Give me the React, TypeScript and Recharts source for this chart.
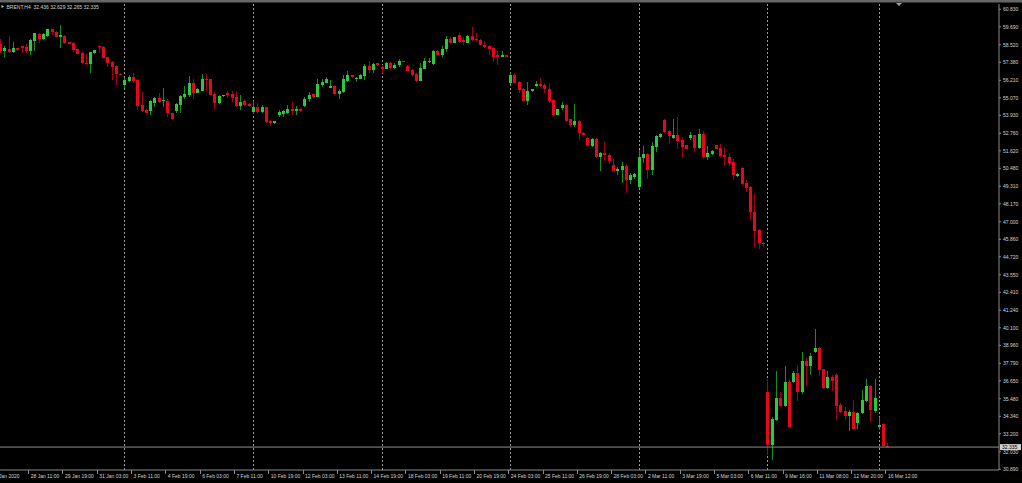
import React from 'react';
import { ComposedChart, Bar, XAxis, YAxis, ReferenceLine } from 'recharts';

// ---- data (BRENT, H4) ----
const opens = [
  58.57, 58.12, 58.27, 58.05, 58.31, 58.44, 58.40, 58.12, 58.77, 59.22,
  58.90, 59.09, 59.53, 59.35, 59.05, 59.09, 58.68, 58.66, 58.22, 58.01,
  57.36, 57.27, 57.96, 58.44, 58.40, 57.73, 57.40, 57.14, 56.64, 55.90,
  56.16, 56.40, 56.23, 54.62, 54.28, 54.19, 54.75, 55.06, 54.84, 54.88,
  54.06, 54.21, 54.62, 55.14, 55.25, 56.06, 55.40, 55.53, 56.32, 56.27,
  55.32, 54.75, 55.17, 55.40, 55.30, 55.10, 54.54, 54.84, 54.67, 54.15,
  54.45, 54.15, 54.45, 53.58, 53.41, 53.97, 54.02, 54.10, 54.36, 54.23,
  54.32, 54.54, 54.97, 55.30, 55.14, 55.90, 56.06, 55.71, 55.84, 55.32,
  55.45, 56.19, 56.53, 56.27, 56.32, 56.49, 57.16, 56.88, 57.31, 57.10,
  56.97, 57.36, 56.99, 57.18, 57.47, 57.14, 56.88, 56.62, 56.19, 56.97,
  57.40, 57.27, 58.14, 57.83, 58.24, 58.88, 58.66, 59.14, 58.83, 58.66,
  59.09, 58.92, 58.83, 58.48, 58.44, 58.31, 57.83, 57.75, 57.83, 56.01,
  56.53, 56.10, 55.62, 54.88, 55.53, 55.84, 55.95, 55.88, 55.66, 54.93,
  53.97, 54.41, 54.62, 53.67, 53.28, 53.54, 52.80, 52.45, 51.93, 52.37,
  51.24, 51.50, 51.37, 50.67, 50.33, 50.37, 50.63, 49.72, 49.94, 49.29,
  51.15, 51.41, 50.37, 51.85, 52.50, 53.62, 52.93, 52.45, 52.63, 52.32,
  51.97, 52.45, 52.63, 51.80, 52.71, 51.19, 51.41, 52.02, 51.80, 51.37,
  51.24, 50.89, 49.98, 50.50, 49.50, 49.29, 47.64, 46.46, 45.64, 35.92,
  32.47, 34.10, 35.53, 35.01, 36.57, 36.57, 37.14, 35.92, 37.96, 37.61,
  38.52, 38.79, 37.40, 36.18, 36.88, 37.05, 35.05, 34.66, 34.36, 34.62,
  33.88, 34.53, 35.34, 36.31, 34.71, 33.62, 33.84, 32.436,
];
const highs = [
  58.88, 58.44, 59.09, 58.70, 58.33, 58.46, 58.57, 58.88, 59.31, 59.27,
  59.31, 59.57, 59.57, 59.44, 59.83, 59.14, 58.70, 58.68, 58.27, 58.05,
  57.92, 58.07, 58.18, 58.44, 58.42, 57.73, 57.44, 57.18, 56.66, 56.34,
  56.58, 56.71, 56.27, 55.45, 54.32, 54.93, 55.10, 55.40, 55.69, 55.01,
  54.10, 54.71, 55.25, 55.86, 56.49, 56.32, 55.69, 56.62, 56.62, 56.32,
  55.47, 55.25, 55.27, 55.53, 55.51, 55.49, 55.25, 54.97, 54.71, 54.84,
  54.71, 54.58, 54.45, 53.63, 53.58, 54.28, 54.28, 54.62, 54.82, 54.54,
  54.38, 55.14, 55.45, 55.36, 56.27, 56.27, 56.40, 56.23, 55.88, 55.62,
  56.55, 56.81, 56.58, 56.40, 56.62, 57.27, 57.49, 57.31, 57.36, 57.23,
  57.40, 57.40, 57.31, 57.57, 57.49, 57.18, 56.97, 56.71, 57.36, 57.66,
  57.66, 58.18, 58.18, 58.44, 59.09, 59.05, 59.05, 59.31, 59.05, 59.14,
  59.66, 59.31, 58.88, 58.74, 58.48, 58.35, 58.14, 58.09, 57.85, 56.66,
  56.71, 56.14, 55.71, 56.10, 55.66, 56.14, 56.36, 56.01, 55.97, 54.97,
  54.36, 54.80, 54.67, 53.71, 54.67, 53.62, 52.82, 52.50, 52.45, 52.45,
  51.54, 52.19, 51.45, 51.11, 50.59, 50.89, 50.76, 50.15, 50.20, 51.67,
  51.93, 51.45, 52.19, 52.67, 52.76, 53.67, 52.97, 53.71, 53.80, 52.54,
  52.02, 52.84, 52.67, 53.02, 52.89, 51.93, 51.67, 52.02, 52.06, 51.85,
  51.45, 51.11, 50.15, 50.54, 49.72, 49.33, 48.81, 46.55, 45.68, 36.75,
  34.27, 37.31, 35.92, 37.61, 36.75, 37.27, 37.68, 38.52, 38.13, 38.48,
  40.02, 38.83, 37.44, 37.31, 37.01, 37.18, 35.18, 34.92, 34.75, 35.40,
  34.62, 36.05, 36.75, 36.36, 36.75, 34.27, 33.88, 32.629,
];
const lows = [
  57.96, 57.75, 57.96, 57.96, 58.14, 57.96, 57.96, 57.83, 58.12, 58.66,
  58.83, 59.05, 59.14, 59.01, 58.33, 58.55, 58.55, 58.07, 57.90, 57.25,
  57.20, 56.66, 57.92, 58.01, 57.64, 57.10, 56.23, 55.88, 56.55, 55.69,
  56.08, 56.06, 54.28, 54.17, 54.06, 53.97, 54.45, 54.71, 54.45, 53.84,
  53.63, 54.10, 54.10, 54.97, 55.14, 54.97, 55.36, 55.49, 55.53, 55.23,
  54.32, 54.67, 55.14, 55.14, 54.82, 54.49, 54.28, 54.54, 54.49, 54.02,
  54.10, 54.06, 53.41, 53.23, 53.37, 53.84, 53.80, 54.02, 53.95, 53.95,
  54.15, 54.49, 54.82, 55.03, 55.10, 55.79, 56.01, 55.69, 55.27, 55.01,
  55.40, 56.12, 56.36, 56.12, 56.27, 56.23, 56.66, 56.66, 57.14, 56.71,
  56.92, 56.97, 56.92, 57.10, 57.38, 56.79, 56.49, 56.10, 56.14, 56.92,
  57.36, 57.23, 57.79, 57.75, 58.05, 58.62, 58.62, 58.62, 58.48, 58.62,
  58.79, 58.70, 58.48, 58.31, 57.83, 57.40, 57.23, 57.70, 57.70, 55.97,
  56.01, 55.36, 54.84, 54.58, 55.45, 55.75, 55.79, 55.36, 54.75, 53.93,
  53.93, 54.28, 53.49, 53.19, 53.19, 52.32, 52.65, 51.93, 51.85, 51.15,
  50.33, 50.93, 50.76, 50.28, 50.04, 49.50, 48.85, 49.46, 49.81, 49.20,
  50.80, 49.81, 50.02, 51.54, 52.45, 52.80, 52.11, 52.41, 51.71, 51.15,
  51.71, 52.32, 51.54, 51.71, 51.06, 51.02, 51.37, 51.71, 51.24, 50.63,
  50.63, 49.72, 49.94, 49.42, 48.94, 47.11, 45.38, 45.25, 45.34, 31.82,
  31.50, 34.06, 34.92, 34.97, 33.58, 36.53, 35.31, 35.79, 36.31, 37.05,
  38.48, 36.96, 36.14, 36.14, 36.01, 34.10, 34.58, 34.10, 33.41, 33.45,
  33.49, 34.49, 35.29, 33.99, 34.58, 33.45, 32.36, 32.265,
];
const closes = [
  58.14, 58.29, 58.07, 58.31, 58.18, 58.33, 58.12, 58.83, 59.27, 58.92,
  59.22, 59.53, 59.35, 59.05, 59.18, 58.62, 58.57, 58.18, 57.94, 57.31,
  57.29, 58.03, 58.18, 58.40, 57.68, 57.31, 57.05, 56.62, 56.58, 56.23,
  56.42, 56.14, 54.54, 54.23, 54.10, 54.84, 55.06, 54.82, 54.93, 54.06,
  53.71, 54.65, 55.19, 55.32, 56.06, 55.40, 55.64, 56.29, 56.25, 55.27,
  54.75, 55.19, 55.25, 55.23, 55.08, 54.54, 54.80, 54.62, 54.54, 54.49,
  54.15, 54.45, 53.52, 53.45, 53.56, 54.15, 54.19, 54.36, 54.23, 54.36,
  54.19, 55.01, 55.27, 55.14, 55.97, 56.12, 56.32, 55.84, 55.32, 55.53,
  56.27, 56.55, 56.40, 56.36, 56.58, 57.16, 56.88, 57.27, 57.18, 56.97,
  57.36, 56.99, 57.23, 57.49, 57.40, 56.84, 56.53, 56.19, 57.01, 57.49,
  57.49, 58.14, 57.83, 58.27, 58.88, 58.66, 59.01, 58.70, 58.70, 59.09,
  58.83, 58.83, 58.53, 58.40, 58.22, 57.75, 57.75, 57.83, 57.75, 56.58,
  56.05, 55.58, 54.88, 55.53, 55.66, 55.97, 55.86, 55.62, 54.88, 53.97,
  54.32, 54.62, 53.58, 53.28, 53.54, 52.76, 52.67, 51.97, 52.41, 51.24,
  51.50, 51.32, 50.93, 50.33, 50.46, 50.63, 49.72, 50.02, 50.11, 51.24,
  51.41, 50.37, 51.93, 52.58, 52.71, 52.84, 52.58, 52.63, 52.28, 51.85,
  51.76, 52.63, 51.80, 52.71, 51.19, 51.50, 51.63, 51.76, 51.28, 51.24,
  50.80, 50.02, 50.11, 49.46, 49.20, 47.64, 46.38, 45.60, 45.55, 32.47,
  34.19, 35.53, 35.01, 36.57, 33.62, 37.14, 35.92, 37.96, 37.61, 38.26,
  38.79, 37.35, 36.18, 36.88, 36.62, 35.01, 34.62, 34.36, 34.62, 33.49,
  34.58, 35.40, 36.31, 34.75, 35.53, 33.80, 32.41, 32.335,
];

// x-axis labels: bar index of each label and its text
const xTickIndex = [-1, 8, 16, 24, 32, 40, 48, 56, 64, 72, 80, 88, 96, 104, 112, 120, 128, 136, 144, 152, 160, 168, 176, 184, 192, 200, 208];
const xTickLabels = [
  '27 Jan 2020', '28 Jan 11:00', '29 Jan 19:00', '31 Jan 03:00', '3 Feb 11:00', '4 Feb 19:00',
  '6 Feb 03:00', '7 Feb 11:00', '10 Feb 19:00', '12 Feb 03:00', '13 Feb 11:00', '14 Feb 19:00',
  '18 Feb 03:00', '19 Feb 11:00', '20 Feb 19:00', '24 Feb 03:00', '25 Feb 11:00', '26 Feb 19:00',
  '28 Feb 03:00', '2 Mar 11:00', '3 Mar 19:00', '5 Mar 03:00', '6 Mar 11:00', '9 Mar 16:00',
  '11 Mar 08:00', '12 Mar 20:00', '16 Mar 12:00',
];
const yTicks = [
  60.83, 59.69, 58.52, 57.38, 56.21, 55.07, 53.93, 52.76, 51.62, 50.48, 49.31, 48.17, 47.0, 45.86,
  44.72, 43.55, 42.41, 41.24, 40.1, 38.96, 37.79, 36.65, 35.48, 34.34, 33.2, 32.03, 30.89,
];
// first bar of each trading week (period separators)
const weekStarts = [30, 60, 90, 120, 150, 180, 206];
const lastPrice = 32.335;
const titleText = 'BRENT,H4  32.436 32.629 32.265 32.335';

const rows = opens.map((o, k) => ({
  i: k + 1,
  o,
  h: highs[k],
  l: lows[k],
  c: closes[k],
  week: weekStarts.includes(k + 1),
  range: [lows[k], highs[k]],
}));

const FONT = '"Liberation Sans", Arial, sans-serif';
const AXIS = '#8a8a8a';
const TXT = '#d4d4d4';

const Candle = (props: any) => {
  const { x, y, width, height, payload, background } = props;
  if (x == null || y == null || !payload) return null;
  const { o, h, l, c, week } = payload;
  const k = h > l ? height / (h - l) : 0;
  const py = (v: number) => y + (h - v) * k;
  const cx = Math.floor(x + width / 2);
  const up = c >= o;
  const body = up ? '#2bc840' : '#e6061e';
  const wick = up ? '#12901f' : '#a60014';
  const top = Math.min(py(o), py(c));
  const bh = Math.max(1, Math.abs(py(o) - py(c)));
  return (
    <g>
      {week && background ? (
        <line
          x1={cx + 0.5}
          x2={cx + 0.5}
          y1={background.y}
          y2={background.y + background.height}
          stroke="#9a9a9a"
          strokeDasharray="2 2"
          shapeRendering="crispEdges"
        />
      ) : null}
      <g shapeRendering="crispEdges">
        <rect x={cx} y={py(h)} width={1} height={Math.max(1, py(l) - py(h))} fill={wick} />
        <rect x={cx - 1} y={top} width={3} height={bh} fill={body} />
      </g>
    </g>
  );
};

const XTick = (props: any) => {
  const { x, y, payload } = props;
  const k = xTickIndex.indexOf(payload.value);
  const label = k >= 0 ? xTickLabels[k] : '';
  return (
    <g>
      <line x1={x - 2} x2={x - 2} y1={y} y2={y + 4} stroke={AXIS} shapeRendering="crispEdges" />
      <text x={x} y={y + 7.6} fill={TXT} fontSize={5} fontFamily={FONT}>{label}</text>
    </g>
  );
};

const PriceTag = (props: any) => {
  const vb = props.viewBox;
  if (!vb) return null;
  const x = vb.x + vb.width;
  const y = vb.y;
  return (
    <g>
      <rect x={x + 1} y={y - 3} width={21} height={6} fill="#cfcfcf" />
      <text x={x + 3} y={y + 1.8} fontSize={5} fill="#000" fontFamily={FONT}>{lastPrice.toFixed(3)}</text>
    </g>
  );
};

export default function App() {
  return (
    <div style={{ position: 'relative', width: 1022, height: 483, overflow: 'hidden', background: '#000' }}>
      <style>{`html,body{margin:0;padding:0;background:#000;}`}</style>
      <div style={{ position: 'absolute', left: -12, top: 0 }}>
        <ComposedChart
          width={1034}
          height={483}
          data={rows}
          margin={{ top: 4, right: 0, bottom: 0, left: 0 }}
          barCategoryGap={0.6}
        >
          <XAxis
            dataKey="i"
            type="number"
            domain={[-1.965, 233.92]}
            allowDataOverflow
            ticks={xTickIndex}
            interval={0}
            height={13}
            tickSize={0}
            tickMargin={0}
            tickLine={false}
            axisLine={{ stroke: AXIS }}
            tick={<XTick />}
          />
          <YAxis
            orientation="right"
            width={23}
            type="number"
            domain={[30.844, 61.175]}
            allowDataOverflow
            ticks={yTicks}
            interval={0}
            tickSize={2}
            tickMargin={2}
            axisLine={{ stroke: AXIS }}
            tickLine={{ stroke: AXIS }}
            tick={{ fill: TXT, fontSize: 5, fontFamily: FONT }}
            tickFormatter={(v: number) => v.toFixed(3)}
          />
          <ReferenceLine y={lastPrice} stroke="#8c8c8c" label={<PriceTag />} />
          <Bar dataKey="range" shape={<Candle />} isAnimationActive={false} />
        </ComposedChart>
      </div>
      <svg width={1022} height={483} style={{ position: 'absolute', left: 0, top: 0, pointerEvents: 'none' }}>
        <rect x={0} y={0} width={1022} height={2.5} fill="#666" />
        <polygon points="896,3 902,3 899,6" fill="#9aa4ac" />
        <polygon points="1.5,5 4,6.5 1.5,8" fill="#cfcfcf" />
        <text x={6.5} y={8.5} fontSize={5} fill={TXT} fontFamily={FONT} xmlSpace="preserve">{titleText}</text>
      </svg>
    </div>
  );
}
